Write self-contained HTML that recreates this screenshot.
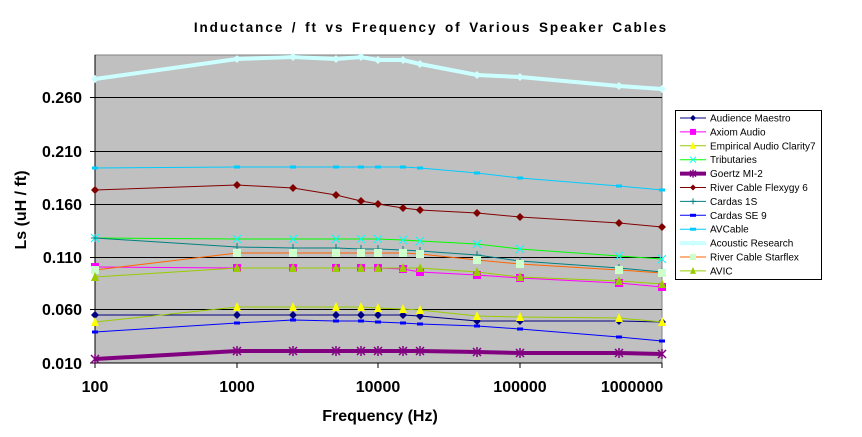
<!DOCTYPE html><html><head><style>body{margin:0;background:#fff}svg{display:block;font-family:"Liberation Sans",Arial,sans-serif}</style></head><body>
<svg id="s" width="862" height="437" xmlns="http://www.w3.org/2000/svg">
<text x="431" y="32" text-anchor="middle" font-size="13.5" font-weight="bold" letter-spacing="1.9" word-spacing="2">Inductance / ft  vs Frequency of Various Speaker Cables</text>
<rect x="95" y="55" width="567" height="308" fill="#c0c0c0" stroke="#808080"/>
<g stroke="#000" stroke-width="1">
<line x1="95" x2="662" y1="309.5" y2="309.5"/><line x1="95" x2="662" y1="257.5" y2="257.5"/><line x1="95" x2="662" y1="204.5" y2="204.5"/><line x1="95" x2="662" y1="151.5" y2="151.5"/><line x1="95" x2="662" y1="97.5" y2="97.5"/>
<line x1="95" x2="95" y1="55" y2="363"/><line x1="90" x2="662" y1="363" y2="363"/>
<line x1="90" x2="95" y1="309.5" y2="309.5"/><line x1="90" x2="95" y1="257.5" y2="257.5"/><line x1="90" x2="95" y1="204.5" y2="204.5"/><line x1="90" x2="95" y1="151.5" y2="151.5"/><line x1="90" x2="95" y1="97.5" y2="97.5"/>
<line x1="95" x2="95" y1="363" y2="368"/><line x1="237" x2="237" y1="363" y2="368"/><line x1="378" x2="378" y1="363" y2="368"/><line x1="520" x2="520" y1="363" y2="368"/><line x1="662" x2="662" y1="363" y2="368"/>
</g>
<g font-size="16" font-weight="bold" text-anchor="end">
<text x="82" y="369">0.010</text><text x="82" y="315">0.060</text><text x="82" y="263">0.110</text><text x="82" y="210">0.160</text><text x="82" y="157">0.210</text><text x="82" y="103">0.260</text>
</g>
<g font-size="16" font-weight="bold" text-anchor="middle">
<text x="95" y="392">100</text><text x="237" y="392">1000</text><text x="378" y="392">10000</text><text x="520" y="392">100000</text><text x="632" y="392">1000000</text>
</g>
<text x="380" y="421" text-anchor="middle" font-size="16" font-weight="bold">Frequency (Hz)</text>
<text transform="translate(26,210) rotate(-90)" text-anchor="middle" font-size="16" font-weight="bold">Ls (uH / ft)</text>
<g id="series"></g>
<rect x="675.5" y="110.5" width="146" height="169" fill="#fff" stroke="#000"/>
<g id="leg" font-size="10"></g>
</svg>
<script>
var X=[95,237,293,336,361,378,403,420,477,520,619,662];
var S=[
["Audience Maestro","#000080",1,"d","#000080",[315,315,315,315,315,315,315,316,321,321,321,322]],
["Axiom Audio","#ff00ff",1,"s","#ff00ff",[267,268,268,268,268,268,269,272,275,278,283,287]],
["Empirical Audio Clarity7","#99cc00",1,"t","#ffff00",[322,307,307,307,307,308,309,310,316,317,318,322]],
["Tributaries","#00ff00",1,"x","#00ffff",[238,239,239,239,239,239,240,241,244,249,256,259]],
["Goertz MI-2","#800080",4,"*","#800080",[359,351,351,351,351,351,351,351,352,353,353,354]],
["River Cable Flexygy 6","#800000",1,"d","#800000",[190,185,188,195,201,204,208,210,213,217,223,227]],
["Cardas 1S","#008080",1,"+","#008080",[238,247,248,248,249,249,250,251,255,261,268,272]],
["Cardas SE 9","#0000ff",1,"-","#0000ff",[332,323,320,321,321,322,323,324,326,329,337,341]],
["AVCable","#00ccff",1,"-","#00ccff",[168,167,167,167,167,167,167,168,173,178,186,190]],
["Acoustic Research","#ccffff",4,"d","#ccffff",[79,59,57,59,57,60,60,64,75,77,86,89]],
["River Cable Starflex","#ff6600",1,"s","#ccffcc",[270,253,253,253,253,253,253,254,260,264,270,273]],
["AVIC","#99cc00",1,"t","#99cc00",[277,268,268,268,268,268,268,268,272,277,281,284]]];
function mk(t,x,y,c,r){r=r||4;
 if(t=="d")return '<path d="M'+x+' '+(y-r)+'L'+(x+r)+' '+y+'L'+x+' '+(y+r)+'L'+(x-r)+' '+y+'Z" fill="'+c+'"/>';
 if(t=="s")return '<rect x="'+(x-r)+'" y="'+(y-r)+'" width="'+2*r+'" height="'+2*r+'" fill="'+c+'"/>';
 if(t=="t")return '<path d="M'+x+' '+(y-r-1)+'L'+(x+r)+' '+(y+r)+'L'+(x-r)+' '+(y+r)+'Z" fill="'+c+'"/>';
 if(t=="x")return '<path d="M'+(x-r)+' '+(y-r)+'L'+(x+r)+' '+(y+r)+'M'+(x+r)+' '+(y-r)+'L'+(x-r)+' '+(y+r)+'" stroke="'+c+'"/>';
 if(t=="*")return '<path d="M'+(x-r)+' '+(y-r)+'L'+(x+r)+' '+(y+r)+'M'+(x+r)+' '+(y-r)+'L'+(x-r)+' '+(y+r)+'M'+x+' '+(y-r-1)+'L'+x+' '+(y+r+1)+'" stroke="'+c+'" stroke-width="1.5"/>';
 if(t=="+")return '<path d="M'+x+' '+(y-r)+'L'+x+' '+(y+r)+'M'+(x-r)+' '+y+'L'+(x+r)+' '+y+'" stroke="'+c+'"/>';
 return '<rect x="'+(x-3)+'" y="'+(y-1.5)+'" width="6" height="3" fill="'+c+'"/>';}
var h='',l='';
S.forEach(function(s,i){var p=s[5].map(function(y,j){return X[j]+','+y}).join(' ');
 h+='<polyline points="'+p+'" fill="none" stroke="'+s[1]+'" stroke-width="'+s[2]+'"/>';
 s[5].forEach(function(y,j){h+=mk(s[3],X[j],y,s[4])});
 var ly=118+i*13.9;
 l+='<line x1="680" x2="706" y1="'+ly+'" y2="'+ly+'" stroke="'+s[1]+'" stroke-width="'+s[2]+'"/>'+mk(s[3],693,ly,s[4],3)+'<text x="710" y="'+(ly+3.5)+'">'+s[0]+'</text>';});
document.getElementById('series').innerHTML=h;document.getElementById('leg').innerHTML=l;
</script>
</body></html>
